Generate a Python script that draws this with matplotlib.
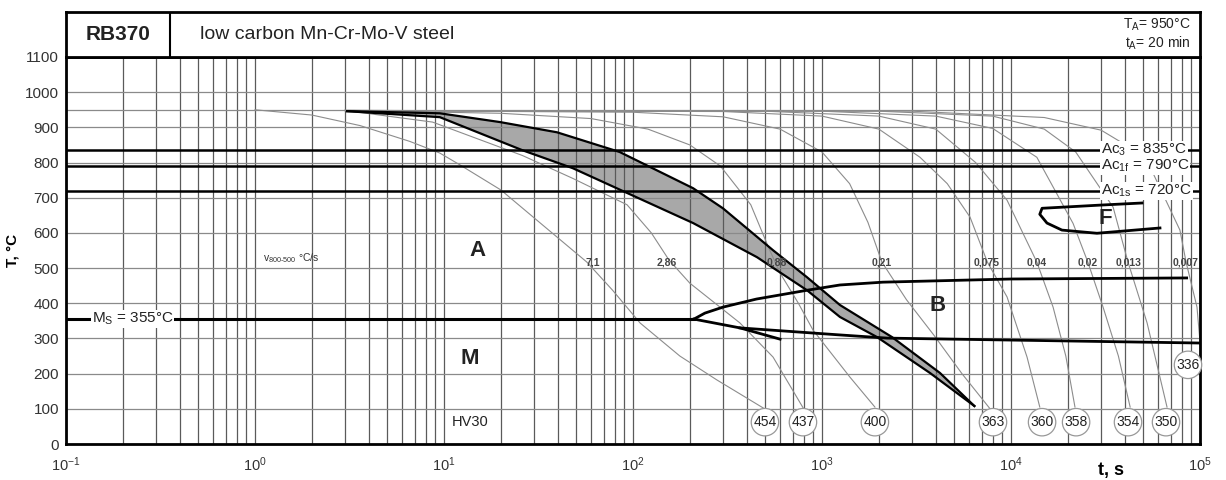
import numpy as np
import matplotlib
matplotlib.use('Agg')
import matplotlib.pyplot as plt
from matplotlib.ticker import LogLocator, NullFormatter, FixedLocator

plt.rcParams['font.family'] = ['Liberation Sans', 'DejaVu Sans']
plt.rcParams['mathtext.fontset'] = 'custom'
plt.rcParams['mathtext.rm'] = 'Liberation Sans'
plt.rcParams['mathtext.it'] = 'Liberation Sans:italic'
plt.rcParams['mathtext.bf'] = 'Liberation Sans:bold'

# critical temperatures, degC
ac3 = 835
ac1f = 790
ac1s = 720
ms = 355

# cooling curves: time (s) / temperature (degC)
c1_t = [1.0, 2.0, 3.6, 6.6, 9.5, 12, 20, 32, 57, 78, 109, 177, 278, 490]
c1_T = [950, 935, 905, 860, 827, 795, 722, 630, 517, 437, 344, 250, 182, 102]
c2_t = [3, 8.7, 26, 48, 93, 125, 155, 200, 368, 551, 800]
c2_T = [948, 915, 820, 755, 680, 600, 523, 457, 344, 247, 100]
c3_t = [3, 20, 60, 120, 200, 290, 420, 520, 600, 750, 896, 1406, 1905]
c3_T = [948, 940, 925, 895, 850, 790, 680, 560, 486, 400, 324, 190, 105]
c4_t = [3, 100, 300, 600, 1000, 1400, 1750, 2075, 2800, 3900, 5500, 7750]
c4_T = [948, 943, 930, 895, 830, 740, 630, 517, 410, 310, 200, 100]
c5_t = [3, 300, 1000, 2000, 3300, 4600, 6070, 7500, 9530, 12160, 14200]
c5_T = [948, 945, 932, 895, 815, 740, 645, 517, 418, 247, 105]
c6_t = [3, 500, 2000, 4000, 6500, 9530, 13700, 16700, 19500, 21800]
c6_T = [948, 946, 932, 895, 800, 693, 517, 389, 250, 105]
c7_t = [3, 1000, 4000, 8000, 13700, 21300, 25500, 30700, 37000, 42700]
c7_T = [948, 946, 932, 897, 815, 627, 517, 389, 250, 105]
c8_t = [3, 2000, 8000, 15000, 22000, 34700, 41600, 52500, 66900]
c8_T = [948, 946, 932, 895, 830, 673, 517, 344, 105]
c9_t = [3, 3000, 15000, 30000, 45000, 56400, 78300, 84400, 96400, 100000]
c9_T = [948, 946, 928, 892, 835, 770, 608, 517, 389, 290]

# v800-500 labels
rate_labels = ['7,1', '2,86', '0,88', '0,21', '0,075', '0,04', '0,02', '0,013', '0,007']
rate_t = [61, 151, 578, 2075, 7460, 13700, 25500, 42100, 84400]
rate_T = 517

# hardness HV30 at end of each curve
hv_labels = ['454', '437', '400', '363', '360', '358', '354', '350', '336']
hv_t = [499, 793, 1905, 8030, 14600, 22100, 41600, 66100, 86400]
hv_T = [62, 62, 62, 62, 62, 62, 62, 62, 225]

# grey band
band_up_t = [3.07, 9.5, 19.8, 39.6, 85, 208, 299, 550, 833, 1245, 2345, 4207, 6400]
band_up_T = [946, 940, 915, 886, 830, 727, 670, 551, 474, 395, 304, 202, 108]
band_lo_t = [3.07, 9.5, 26, 48, 82, 208, 453, 833, 1245, 1954, 3724, 6400]
band_lo_T = [946, 929, 835, 784, 727, 628, 531, 437, 361, 304, 202, 108]

# ferrite nose
f_t = [49300, 29600, 14600, 14200, 15500, 18600, 28500, 61400]
f_T = [685, 679, 670, 653, 628, 608, 599, 614]

# bainite start / martensite / bainite finish
bs_t = [210, 240, 299, 450, 833, 1245, 2100, 10000, 85000]
bs_T = [355, 372, 389, 412, 437, 452, 460, 469, 472]
mf_t = [210, 368, 600]
mf_T = [355, 330, 298]
bf_t = [368, 1245, 2208, 11170, 100000]
bf_T = [330, 310, 301, 295, 287]

fig = plt.figure(figsize=(12.26, 4.8), dpi=100)
ax = fig.add_axes([66/1226, 36/480, 1134/1226, 387/480])
ax.set_xscale('log')
ax.set_xlim(0.1, 1e5)
ax.set_ylim(0, 1100)

ax.xaxis.set_major_locator(LogLocator(base=10, numticks=10))
ax.xaxis.set_minor_locator(LogLocator(base=10, subs=np.arange(2, 10), numticks=100))
ax.xaxis.set_minor_formatter(NullFormatter())
ax.set_yticks(np.arange(0, 1101, 100))
ax.yaxis.set_minor_locator(FixedLocator([950]))
ax.tick_params(which='both', length=0)
ax.tick_params(axis='x', pad=8, labelsize=10.5, labelcolor='#333333')
ax.tick_params(axis='y', pad=5, labelsize=11, labelcolor='#333333')
ax.set_axisbelow('line')
ax.grid(True, axis='x', which='both', color='#5a5a5a', lw=0.9)
ax.grid(True, axis='y', which='both', color='#8a8a8a', lw=0.9)
for s in ax.spines.values():
    s.set_linewidth(2)

ax.set_ylabel('T, °C', fontsize=11, fontweight='bold', labelpad=4)
ax.text(3.4e4, -75, 't, s', fontsize=13, fontweight='bold', ha='center', va='center')

# cooling curves
curves = [(c1_t, c1_T), (c2_t, c2_T), (c3_t, c3_T), (c4_t, c4_T), (c5_t, c5_T),
          (c6_t, c6_T), (c7_t, c7_T), (c8_t, c8_T), (c9_t, c9_T)]
for ct, cT in curves:
    ax.plot(ct, cT, color='#8c8c8c', lw=0.8, zorder=2)

# grey band
poly_t = band_up_t + band_lo_t[::-1]
poly_T = band_up_T + band_lo_T[::-1]
ax.fill(poly_t, poly_T, color='#a8a8a8', zorder=1, lw=0)
ax.plot(band_up_t, band_up_T, color='black', lw=1.6, zorder=4)
ax.plot(band_lo_t, band_lo_T, color='black', lw=1.6, zorder=4)

# critical temperature lines
for temp, lab in [(ac3, r'Ac$_\mathrm{3}$ = 835°C'), (ac1f, r'Ac$_\mathrm{1f}$ = 790°C'),
                  (ac1s, r'Ac$_\mathrm{1s}$ = 720°C')]:
    ax.axhline(temp, color='black', lw=1.8, zorder=4)
    ax.text(3.0e4, temp, lab, fontsize=11, color='#222222', ha='left', va='center', zorder=6,
            bbox=dict(fc='white', ec='none', pad=0.5))
ax.plot([0.1, 210], [ms, ms], color='black', lw=2.2, zorder=4)
ax.text(0.137, ms, r'M$_\mathrm{S}$ = 355°C', fontsize=11, color='#222222', ha='left', va='center', zorder=6,
        bbox=dict(fc='white', ec='none', pad=0.5))

ax.plot(f_t, f_T, color='black', lw=2, zorder=4)
ax.plot(bs_t, bs_T, color='black', lw=2, zorder=4)
ax.plot(mf_t, mf_T, color='black', lw=2, zorder=4)
ax.plot(bf_t, bf_T, color='black', lw=2, zorder=4)

# region letters
for lab, lt, lT in [('A', 15, 551), ('M', 13.7, 244), ('B', 4110, 395), ('F', 31400, 642)]:
    ax.text(lt, lT, lab, fontsize=16, fontweight='bold', color='#222222', ha='center', va='center', zorder=6)

ax.text(1.1, 528, r'v$_\mathrm{800\text{-}500}$ °C/s', fontsize=7.5, color='#333333', ha='left', va='center')
for lab, rt in zip(rate_labels, rate_t):
    ax.text(rt, rate_T, lab, fontsize=7.5, fontweight='bold', color='#444444', ha='center', va='center', zorder=5)

ax.text(13.7, 62, 'HV30', fontsize=10.5, color='#222222', ha='center', va='center')
for lab, ht, hT in zip(hv_labels, hv_t, hv_T):
    ax.text(ht, hT, lab, fontsize=10, color='#222222', ha='center', va='center', zorder=6,
            bbox=dict(boxstyle='circle,pad=0.15', fc='white', ec='#999999', lw=0.9))

# header box
hx = fig.add_axes([66/1226, 423/480, 1134/1226, 45/480])
hx.set_xlim(0, 1)
hx.set_ylim(0, 1)
hx.set_xticks([])
hx.set_yticks([])
for s in hx.spines.values():
    s.set_linewidth(2)
hx.axvline(104/1134, color='black', lw=1.5)
hx.text(52/1134, 0.5, 'RB370', fontsize=15, fontweight='bold', ha='center', va='center', color='#222222')
hx.text(134/1134, 0.5, 'low carbon Mn-Cr-Mo-V steel', fontsize=14, ha='left', va='center', color='#222222')
hx.text(0.992, 0.72, r'T$_\mathrm{A}$= 950°C', fontsize=10, ha='right', va='center', color='#222222')
hx.text(0.992, 0.3, r't$_\mathrm{A}$= 20 min', fontsize=10, ha='right', va='center', color='#222222')

fig.savefig('out.png', dpi=100)
